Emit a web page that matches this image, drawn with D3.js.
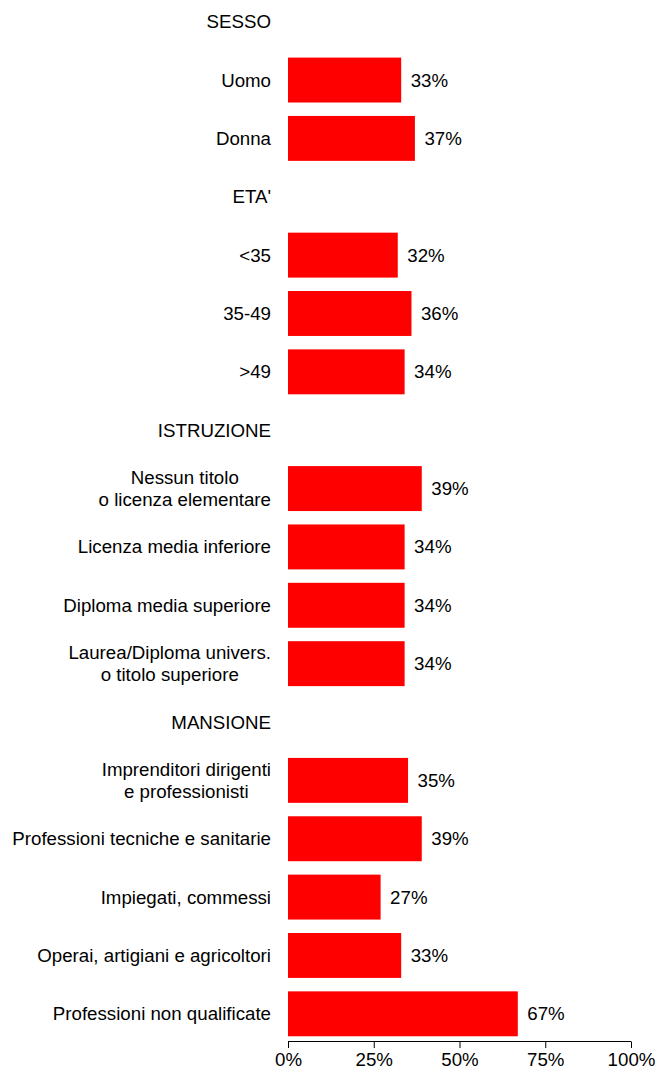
<!DOCTYPE html>
<html>
<head>
<meta charset="utf-8">
<script src="https://cdn.jsdelivr.net/npm/d3@7"></script>
<style>
  html, body { margin: 0; padding: 0; background: #fff; }
  svg text { font-family: "Liberation Sans", Arial, sans-serif; fill: #000; }
</style>
</head>
<body>
<svg id="chart" width="657" height="1075"></svg>
<script>
// Row labels, top to bottom; group headers have no value
const rowLabels = [
  "SESSO", "Uomo", "Donna",
  "ETA'", "<35", "35-49", ">49",
  "ISTRUZIONE", "Nessun titolo\no licenza elementare", "Licenza media inferiore",
  "Diploma media superiore", "Laurea/Diploma univers.\no titolo superiore",
  "MANSIONE", "Imprenditori dirigenti\ne professionisti", "Professioni tecniche e sanitarie",
  "Impiegati, commessi", "Operai, artigiani e agricoltori", "Professioni non qualificate"
];
const rowValues = [
  null, 33, 37,
  null, 32, 36, 34,
  null, 39, 34, 34, 34,
  null, 35, 39, 27, 33, 67
];
const tickValues = [0, 25, 50, 75, 100];

const svg = d3.select("#chart");
const rows = rowLabels.map((label, i) => ({ label, value: rowValues[i], id: i }));

const x = d3.scaleLinear().domain([0, 100]).range([288, 631]);
const y = d3.scaleBand()
  .domain(rows.map(d => d.id))
  .range([-7.5, 1043])
  .paddingInner(0.23)
  .paddingOuter(0.115);

const fontSize = 18.7;

// bars
svg.append("g").selectAll("rect")
  .data(rows.filter(d => d.value !== null))
  .join("rect")
  .attr("x", x(0))
  .attr("y", d => y(d.id))
  .attr("width", d => x(d.value) - x(0))
  .attr("height", y.bandwidth())
  .attr("fill", "#ff0000");

// value labels
svg.append("g").selectAll("text")
  .data(rows.filter(d => d.value !== null))
  .join("text")
  .attr("x", d => x(d.value) + 9.5)
  .attr("y", d => y(d.id) + y.bandwidth() / 2)
  .attr("dy", "0.35em")
  .attr("font-size", fontSize)
  .text(d => d.value + "%");

// category labels: multi-line blocks right-aligned, lines centred within the block
const labelRight = 271;
const lineH = 22;
const labelG = svg.append("g");
rows.forEach(d => {
  const lines = d.label.split("\n");
  const cy = y(d.id) + y.bandwidth() / 2;
  const t = labelG.append("text")
    .attr("font-size", fontSize)
    .attr("text-anchor", lines.length > 1 ? "middle" : "end");
  if (lines.length === 1) {
    t.attr("x", labelRight).attr("y", cy).attr("dy", "0.35em").text(lines[0]);
  } else {
    // measure widest line to centre all lines in the block
    const tmp = labelG.append("text").attr("font-size", fontSize);
    let maxW = 0;
    lines.forEach(l => { tmp.text(l); maxW = Math.max(maxW, tmp.node().getComputedTextLength()); });
    tmp.remove();
    const cx = labelRight - maxW / 2;
    lines.forEach((l, k) => {
      t.append("tspan")
        .attr("x", cx)
        .attr("y", cy + (k - (lines.length - 1) / 2) * lineH)
        .attr("dy", "0.35em")
        .text(l);
    });
  }
});

// x axis
const axis = svg.append("g")
  .attr("transform", "translate(0,1041)")
  .call(d3.axisBottom(x).tickValues(tickValues).tickSize(7).tickPadding(5).tickFormat(d => d + "%"));
axis.select(".domain").attr("stroke", "#000").attr("stroke-width", 1).attr("d", `M${x(0)},0.5H${x(100)}`);
axis.selectAll(".tick line").attr("stroke", "#000").attr("y1", 0.5);
axis.selectAll(".tick text").attr("font-size", fontSize).attr("font-family", "Liberation Sans, Arial, sans-serif").attr("fill", "#000");
</script>
</body>
</html>
